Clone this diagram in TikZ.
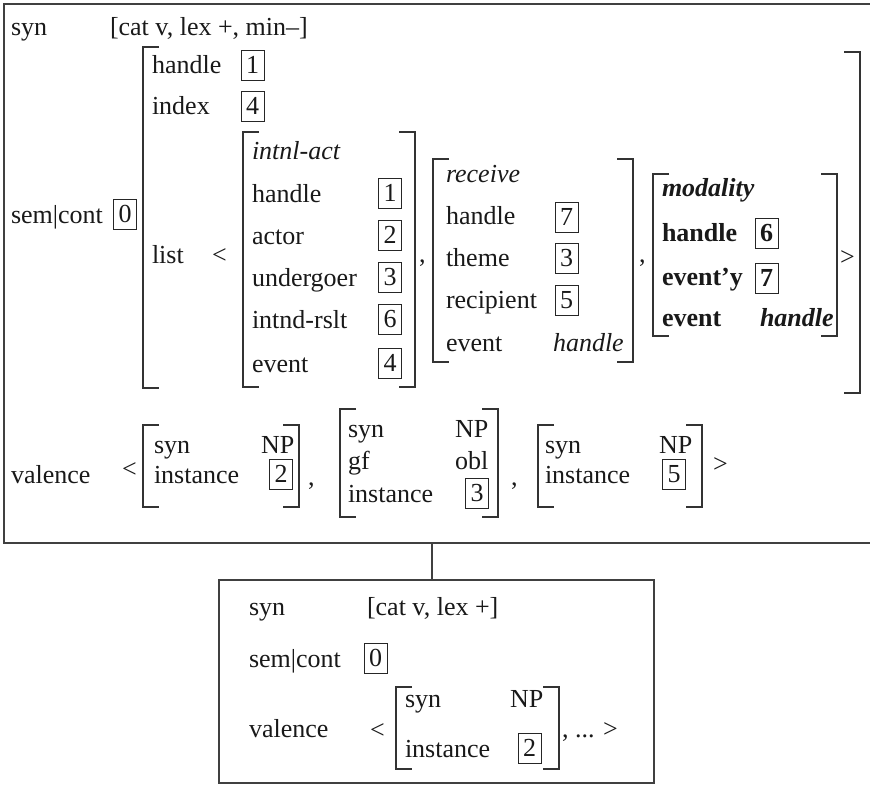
\documentclass[tikz,border=0pt]{standalone}
\usepackage{fontspec}
\setmainfont{Liberation Serif}
\begin{document}
\begin{tikzpicture}[x=1pt,y=-1pt,
  every node/.style={inner sep=0pt,outer sep=0pt,text=black!90,
    font=\fontsize{26}{30}\selectfont},
  txt/.style={anchor=base west},
  tag/.style={draw=black!85,line width=0.9pt,minimum width=23pt,minimum height=30pt,anchor=center},
  frame/.style={draw=black!75,line width=1.1pt},
  brk/.style={draw=black!80,line width=1.1pt}]
\useasboundingbox (0,0) rectangle (870,785);

% left and right AVM brackets: \avmL{x}{top}{bottom}, \avmR{x}{top}{bottom}
\newcommand\avmL[3]{\draw[brk] (#1+16,#2) -- (#1,#2) -- (#1,#3) -- (#1+16,#3);}
\newcommand\avmR[3]{\draw[brk] (#1-16,#2) -- (#1,#2) -- (#1,#3) -- (#1-16,#3);}

% ---------------- upper construction ----------------
\draw[frame] (876,4) -- (4,4) -- (4,543) -- (876,543);
\coordinate (topfoot) at (432,543);

\node[txt] (synA) at (11,35) {syn};
\node[txt] (synAv) at (110,35) {[cat v, lex +, min–]};

\node[txt] (semA) at (11,223) {sem|cont};
\node[tag] (tagA0) at (125,214) {0};

% content of sem|cont
\avmL{143}{47}{388}
\avmR{860}{52}{393}
\node[txt] (hdA) at (152,73) {handle};
\node[tag] (tagA1) at (252.5,65) {1};
\node[txt] (ixA) at (152,114) {index};
\node[tag] (tagA4) at (252.5,106) {4};
\node[txt] (listA) at (152,263) {list};
\node[txt] (ltA) at (212,263) {<};

% intnl-act frame
\avmL{243}{132}{387}
\avmR{415}{132}{387}
\node[txt] (iaT) at (252,159) {\itshape intnl-act};
\node[txt] (iaH) at (252,202) {handle};
\node[txt] (iaA) at (252,244) {actor};
\node[txt] (iaU) at (252,286) {undergoer};
\node[txt] (iaR) at (252,328) {intnd-rslt};
\node[txt] (iaE) at (252,372) {event};
\node[tag] (iaH1) at (390,193) {1};
\node[tag] (iaA2) at (390,235) {2};
\node[tag] (iaU3) at (390,277) {3};
\node[tag] (iaR6) at (390,319) {6};
\node[tag] (iaE4) at (390,363) {4};
\node[txt] (cmA1) at (419,262) {,};

% receive frame
\avmL{433}{159}{362}
\avmR{633}{159}{362}
\node[txt] (rcT) at (446,182) {\itshape receive};
\node[txt] (rcH) at (446,224) {handle};
\node[txt] (rcM) at (446,266) {theme};
\node[txt] (rcR) at (446,308) {recipient};
\node[txt] (rcE) at (446,351) {event};
\node[tag] (rcH7) at (566.5,217) {7};
\node[tag] (rcM3) at (566.5,258) {3};
\node[tag] (rcR5) at (566.5,300) {5};
\node[txt] (rcEv) at (553,351) {\itshape handle};
\node[txt] (cmA2) at (639,262) {,};

% modality frame
\avmL{653}{174}{336}
\avmR{837}{174}{336}
\node[txt] (mdT) at (662,196) {\bfseries\itshape modality};
\node[txt] (mdH) at (662,241) {\bfseries handle};
\node[txt] (mdY) at (662,285) {\bfseries event’y};
\node[txt] (mdE) at (662,326) {\bfseries event};
\node[tag] (mdH6) at (766.5,233) {\bfseries 6};
\node[tag] (mdY7) at (766.5,278) {\bfseries 7};
\node[txt] (mdEv) at (760,326) {\bfseries\itshape handle};
\node[txt] (gtA) at (840,265) {>};

% valence list
\node[txt] (valA) at (11,483) {valence};
\node[txt] (ltV) at (122,477) {<};
\avmL{143}{425}{507}
\avmR{299}{425}{507}
\node[txt] (v1S) at (154,453) {syn};
\node[txt] (v1N) at (261,453) {NP};
\node[txt] (v1I) at (154,483) {instance};
\node[tag] (v1T) at (281,474) {2};
\node[txt] (cmV1) at (308,485) {,};
\avmL{340}{409}{517}
\avmR{498}{409}{517}
\node[txt] (v2S) at (348,437) {syn};
\node[txt] (v2N) at (455,437) {NP};
\node[txt] (v2G) at (348,469) {gf};
\node[txt] (v2O) at (455,469) {obl};
\node[txt] (v2I) at (348,502) {instance};
\node[tag] (v2T) at (477,493) {3};
\node[txt] (cmV2) at (511,485) {,};
\avmL{538}{425}{507}
\avmR{702}{425}{507}
\node[txt] (v3S) at (545,453) {syn};
\node[txt] (v3N) at (659,453) {NP};
\node[txt] (v3I) at (545,483) {instance};
\node[tag] (v3T) at (674,474) {5};
\node[txt] (gtV) at (713,472) {>};

% ---------------- lower construction ----------------
\node[frame,minimum width=435pt,minimum height=203pt,anchor=north west] (lowbox) at (219,580) {};
\draw[frame] (topfoot) -- (topfoot |- lowbox.north);

\node[txt] (synB) at (249,615) {syn};
\node[txt] (synBv) at (367,615) {[cat v, lex +]};
\node[txt] (semB) at (249,667) {sem|cont};
\node[tag] (tagB0) at (375.5,658) {0};
\node[txt] (valB) at (249,737) {valence};
\node[txt] (ltB) at (370,738) {<};
\avmL{396}{687}{769}
\avmR{559}{687}{769}
\node[txt] (bS) at (405,707) {syn};
\node[txt] (bN) at (510,707) {NP};
\node[txt] (bI) at (405,757) {instance};
\node[tag] (bT) at (529.5,748) {2};
\node[txt] (bRest) at (562,737) {, ... >};
\end{tikzpicture}
\end{document}
